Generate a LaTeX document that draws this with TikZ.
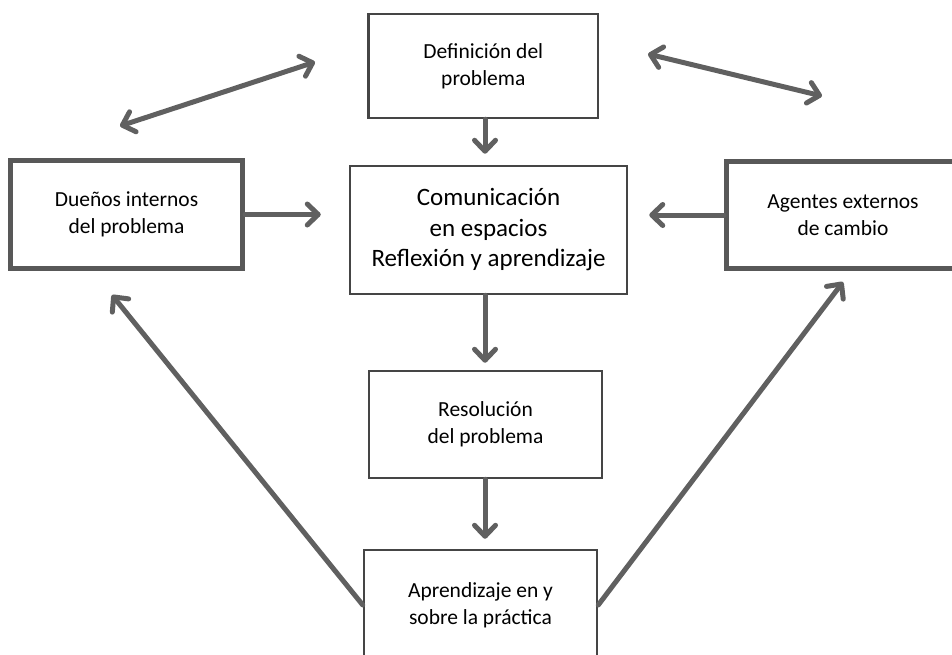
\documentclass[tikz,border=0pt]{standalone}
\usepackage{fontspec}
\setmainfont{Carlito}
\usetikzlibrary{arrows.meta}
\definecolor{boxline}{HTML}{454545}
\definecolor{arrowgray}{HTML}{606060}
\tikzset{
  box/.style={draw=boxline, line width=2.5pt, rectangle, inner sep=0pt, align=center,
    fill=white, font=\fontsize{21.5pt}{27pt}\selectfont},
  thickbox/.style={box, line width=5pt, draw=boxline!90!white},
  bigtext/.style={font=\fontsize{25pt}{30.5pt}\selectfont},
  arr/.style={draw=arrowgray, line width=5pt, line cap=round,
    -{Straight Barb[round, length=11pt, width=21pt]}},
  dblarr/.style={arr, {Straight Barb[round, length=11pt, width=21pt]}-{Straight Barb[round, length=11pt, width=21pt]}}
}
\begin{document}
\begin{tikzpicture}[x=1pt, y=-1pt]
\useasboundingbox (0,0) rectangle (952,655);
\clip (0,0) rectangle (952,655);

% main column axis
\coordinate (ax) at (485,0);

% boxes
\node[box, minimum width=229.5pt, minimum height=104pt] (def) at (483.3,66)
  {Definición del\\problema};
\node[box, bigtext, minimum width=277pt, minimum height=128pt] (com) at (488.5,230)
  {Comunicación\\en espacios\\Reflexión y aprendizaje};
\node[box, minimum width=233pt, minimum height=107pt] (res) at (485.5,424.5)
  {Resolución\\del problema};
\node[box, minimum width=233pt, minimum height=110pt] (apr) at (480.5,605)
  {Aprendizaje en y\\sobre la práctica};
\node[thickbox, minimum width=232pt, minimum height=108pt] (due) at (126.5,214.5)
  {Dueños internos\\del problema};
\node[thickbox, minimum width=233pt, minimum height=107pt] (age) at (843,215)
  {Agentes externos\\de cambio};

% free ends of the open arrows
\coordinate (dtip) at (112,295);
\coordinate (atip) at (843,282);
\coordinate (la) at (120,126);
\coordinate (lb) at (315,62);
\coordinate (ra) at (648,54);
\coordinate (rb) at (822,96);

% connectors
\draw[arr, shorten >=11pt] (def.south -| ax) -- (com.north -| ax);
\draw[arr, shorten >=7pt] (com.south -| ax) -- (res.north -| ax);
\draw[arr, shorten >=10pt] (res.south -| ax) -- (apr.north -| ax);
\draw[arr, shorten >=28pt] (due.east) -- (com.west |- due.east);
\draw[arr, shorten >=21pt] (age.west) -- (com.east |- age.west);
\draw[arr] (apr.west) -- (dtip);
\draw[arr] (apr.east) -- (atip);
\draw[dblarr] (la) -- (lb);
\draw[dblarr] (ra) -- (rb);
\end{tikzpicture}
\end{document}
